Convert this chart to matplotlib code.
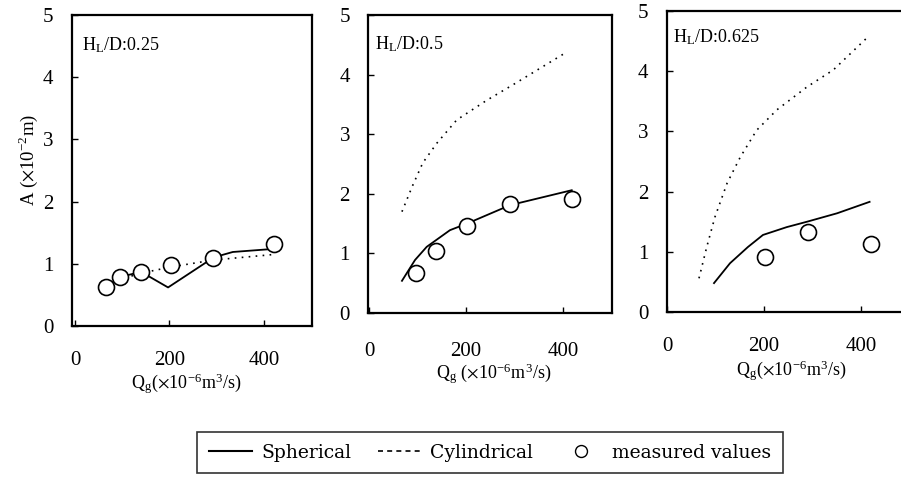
import matplotlib
matplotlib.use("Agg")
import matplotlib.pyplot as plt
from matplotlib.lines import Line2D

plt.rcParams['font.family'] = ['Liberation Serif', 'DejaVu Serif']
plt.rcParams['mathtext.fontset'] = 'stix'

# ---------------- data ----------------
# Panel 1: H_L/D = 0.25
meas_x1 = [65, 96, 140, 204, 292, 421]
meas_y1 = [0.63, 0.79, 0.87, 0.98, 1.10, 1.32]
sph_x1 = [65, 96, 140, 197, 279, 292, 334, 421]
sph_y1 = [0.63, 0.79, 0.87, 0.62, 1.03, 1.10, 1.19, 1.24]
cyl_x1 = [65, 96, 140, 204, 292, 421]
cyl_y1 = [0.63, 0.75, 0.85, 0.95, 1.06, 1.15]

# Panel 2: H_L/D = 0.5
meas_x2 = [97, 138, 202, 291, 418]
meas_y2 = [0.67, 1.04, 1.46, 1.83, 1.91]
sph_x2 = [68, 95, 119, 167, 202, 291, 418]
sph_y2 = [0.54, 0.89, 1.11, 1.39, 1.50, 1.81, 2.06]
cyl_x2 = [68, 89, 111, 140, 181, 243, 297, 408]
cyl_y2 = [1.70, 2.12, 2.52, 2.85, 3.24, 3.57, 3.83, 4.38]

# Panel 3: H_L/D = 0.625
meas_x3 = [202, 291, 421]
meas_y3 = [0.91, 1.33, 1.13]
sph_x3 = [97, 130, 167, 198, 247, 289, 351, 418]
sph_y3 = [0.48, 0.81, 1.08, 1.28, 1.41, 1.50, 1.64, 1.83]
cyl_x3 = [66, 82, 99, 124, 151, 185, 227, 289, 343, 412]
cyl_y3 = [0.56, 1.08, 1.58, 2.14, 2.57, 3.02, 3.36, 3.74, 4.02, 4.55]

panel_titles = ["0.25", "0.5", "0.625"]
x_ticks = [0, 200, 400]
y_ticks = [0, 1, 2, 3, 4, 5]
legend_labels = ["Spherical", "Cylindrical", "measured values"]

# ---------------- layout ----------------
W, H = 901, 480
fig = plt.figure(figsize=(W / 100, H / 100), dpi=100)


def add_ax(left, top, right, bottom):
    return fig.add_axes([left / W, 1 - bottom / H, (right - left) / W, (bottom - top) / H])


XL_A = r'Q$_\mathregular{g}$($\times$10$^\mathregular{-6}$m$^\mathregular{3}$/s)'
XL_B = r'Q$_\mathregular{g}$ ($\times$10$^\mathregular{-6}$m$^\mathregular{3}$/s)'

panels = [
    dict(box=(72, 15, 312, 326), xlim=(-6.3, 501.6), xpad=18, ypad=13.5,
         data=(meas_x1, meas_y1, sph_x1, sph_y1, cyl_x1, cyl_y1),
         title_pos=(0.042, 0.904), xlabel=XL_A, xlabel_pos=(0.479, -0.203)),
    dict(box=(368, 15, 612, 313), xlim=(-2, 501), xpad=21, ypad=13,
         data=(meas_x2, meas_y2, sph_x2, sph_y2, cyl_x2, cyl_y2),
         title_pos=(0.029, 0.903), xlabel=XL_B, xlabel_pos=(0.516, -0.225)),
    dict(box=(667, 11, 920, 312), xlim=(0, 522), xpad=18, ypad=13.5,
         data=(meas_x3, meas_y3, sph_x3, sph_y3, cyl_x3, cyl_y3),
         title_pos=(0.024, 0.914), xlabel=XL_A, xlabel_pos=(0.494, -0.214)),
]

for i, p in enumerate(panels):
    ax = add_ax(*p['box'])
    mx, my, sx, sy, cx, cy = p['data']
    ax.plot(cx, cy, color='black', lw=1.2, linestyle=(0, (1, 3.2)), zorder=2)
    ax.plot(sx, sy, color='black', lw=1.3, linestyle='-', zorder=2)
    ax.plot(mx, my, linestyle='none', marker='o', ms=11.5, mfc='white',
            mec='black', mew=1.2, zorder=3)
    ax.set_xlim(*p['xlim'])
    ax.set_ylim(0, 5)
    ax.set_xticks(x_ticks)
    ax.set_yticks(y_ticks)
    ax.tick_params(direction='in', length=4, width=1, labelsize=15)
    ax.tick_params(axis='x', pad=p['xpad'])
    ax.tick_params(axis='y', pad=p['ypad'])
    for s in ax.spines.values():
        s.set_linewidth(1.6)
    ax.text(p['title_pos'][0], p['title_pos'][1],
            r'H$_\mathregular{L}$/D:' + panel_titles[i],
            transform=ax.transAxes, fontsize=13, ha='left', va='center')
    ax.set_xlabel(p['xlabel'], fontsize=13)
    ax.xaxis.set_label_coords(*p['xlabel_pos'])
    ax.xaxis.label.set_va('baseline')
    if i == 0:
        ax.set_ylabel(r'A ($\times$10$^\mathregular{-2}$m)', fontsize=13.5)
        ax.yaxis.set_label_coords(-0.183, 0.534)
        ax.yaxis.label.set_va('center')

# ---------------- legend ----------------
handles = [
    Line2D([], [], color='black', lw=1.5, linestyle='-'),
    Line2D([], [], color='black', lw=1.2, linestyle=(0, (3, 2.5))),
    Line2D([], [], linestyle='none', marker='o', ms=8.6, mfc='white', mec='black', mew=1.0),
]
leg = fig.legend(handles, legend_labels, ncol=3, loc='center',
                 bbox_to_anchor=(490 / W, 1 - 452.5 / H),
                 prop={'family': 'DejaVu Serif', 'size': 13.5},
                 frameon=True, fancybox=False,
                 edgecolor='black', handlelength=2.3, handletextpad=0.5,
                 borderpad=0.62, borderaxespad=0, columnspacing=1.4)
leg.get_frame().set_linewidth(1.2)

fig.savefig('out.png', dpi=100)
